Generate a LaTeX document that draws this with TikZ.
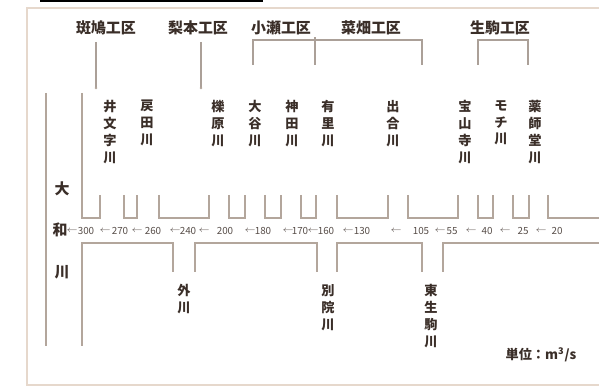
\documentclass[tikz,border=0pt]{standalone}
\usepackage{fontspec}
\newfontfamily\jp{Noto Sans CJK JP}
\usepackage{tikz}

\definecolor{bankc}{HTML}{B3A69C}
\definecolor{framec}{HTML}{E6D8CC}
\definecolor{ink}{HTML}{3A2E28}

\tikzset{
    bank/.style={draw=bankc, line width=0.6pt},
    kuline/.style={draw=bankc!85!gray, line width=0.7pt},
    kuku/.style={font=\jp\bfseries\fontsize{8.5}{10}\selectfont, text=ink, inner sep=0pt},
    trib/.style={font=\jp\bfseries\fontsize{7.5}{9.6}\selectfont, text=ink, align=center, anchor=north, inner sep=0pt},
    flow/.style={font=\jp\fontsize{5.6}{7}\selectfont, text=ink!85, inner sep=0pt},
    flowarr/.style={font=\fontsize{4.2}{5}\selectfont, text=ink!75, inner sep=0pt},
}

\begin{document}
\begin{tikzpicture}[x=0.02cm, y=-0.02cm]
        \useasboundingbox (0,0) rectangle (599,388);
        \fill[black] (40,0) rectangle (263,2);
        \draw[framec, line width=1.1pt] (599,8) -- (27,8) -- (27,385) -- (599,385);

        \node[kuku] (ikaruga) at (106,28) {斑鳩工区};
        \node[kuku] (nashimoto) at (198,28) {梨本工区};
        \node[kuku] (oze) at (281,28) {小瀬工区};
        \node[kuku] (nabata) at (371,28) {菜畑工区};
        \node[kuku] (ikoma) at (500,28) {生駒工区};

        \coordinate (ik1) at (96,42);
        \coordinate (ik2) at (96,88);
        \coordinate (na1) at (201,42);
        \coordinate (na2) at (201,88);
        \coordinate (oz1) at (253,65);
        \coordinate (oz2) at (315,65);
        \coordinate (nb1) at (422,65);
        \coordinate (iko1) at (478,65);
        \coordinate (iko2) at (528,65);

        \draw[kuline] (ik1) -- (ik2);
        \draw[kuline] (na1) -- (na2);
        \fill[bankc] (ik2) circle (1.3);
        \fill[bankc] (na2) circle (1.3);
        \draw[kuline] (oz1) |- (nb1 |- 0,40) -- (nb1);
        \draw[kuline] (oz2) -- (oz2 |- 0,37);
        \draw[kuline] (iko1) |- (iko2 |- 0,40) -- (iko2);

        \node[trib] (ibunji) at (110,100) {井\\文\\字\\川};
        \node[trib] (modorida) at (147,100) {戻\\田\\川};
        \node[trib] (ichihara) at (218,100) {櫟\\原\\川};
        \node[trib] (otani) at (255,100) {大\\谷\\川};
        \node[trib] (koda) at (292,100) {神\\田\\川};
        \node[trib] (arisato) at (328,100) {有\\里\\川};
        \node[trib] (deai) at (393,100) {出\\合\\川};
        \node[trib] (hozanji) at (465,100) {宝\\山\\寺\\川};
        \node[trib] (mochi) at (501,100) {モ\\チ\\川};
        \node[trib] (yakushido) at (535,100) {薬\\師\\堂\\川};

        \node[trib] (sotokawa) at (184,284) {外\\川};
        \node[trib] (betsuin) at (328,284) {別\\院\\川};
        \node[trib] (higashiikoma) at (431,284) {東\\生\\駒\\川};

        \node[kuku] (dai) at (62,189) {大};
        \node[kuku] (wa) at (60,230) {和};
        \node[kuku] (kawa) at (62,272) {川};

        \draw[bank] (46,93) -- (46,346);
        \draw[bank] (82,93) -- (82,218) -- (100,218) -- (100,195);
        \foreach \a/\b in {124/137, 159/209, 229/245, 265/281, 301/316, 337/388, 408/458, 478/493, 513/529}
            \draw[bank] (\a,195) -- (\a,218) -- (\b,218) -- (\b,195);
        \draw[bank] (548,195) -- (548,218) -- (599,218);

        \draw[bank] (82,346) -- (82,243) -- (173,243) -- (173,272);
        \draw[bank] (195,272) -- (195,243) -- (317,243) -- (317,272);
        \draw[bank] (337,272) -- (337,243) -- (422,243) -- (422,272);
        \draw[bank] (443,272) -- (443,243) -- (599,243);

        \foreach \x/\q in {86/300, 120/270, 153/260, 188/240, 225/200, 263/180, 300/170, 326/160, 362/130, 421/105, 452/55, 487/40, 523/25, 557/20}
            \node[flow] (q\q) at (\x,231) {\q};
        \foreach \x [count=\i] in {72, 105, 137, 175, 204, 250, 288, 313, 348, 396, 440, 471, 505, 541}
            \node[flowarr] (arr\i) at (\x,231) {$\leftarrow$};

        \node[kuku, font=\jp\bfseries\fontsize{7.5}{9}\selectfont] (unit) at (541,355) {単位：m\textsuperscript{3}/s};
    \end{tikzpicture}
\end{document}
